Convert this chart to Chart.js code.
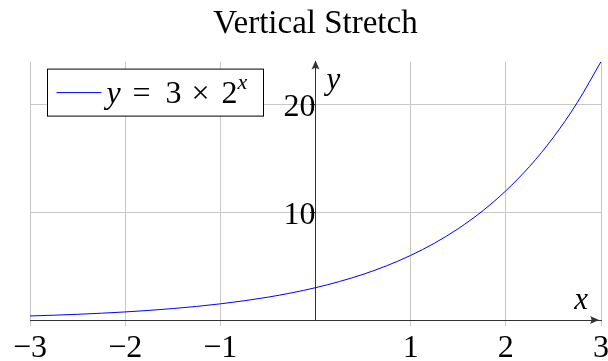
<!DOCTYPE html>
<html>
<head>
<meta charset="utf-8">
<script src="https://cdn.jsdelivr.net/npm/chart.js@4.4.1/dist/chart.umd.min.js"></script>
<style>
  html, body { margin: 0; padding: 0; background: #fff; }
  #wrap { width: 608px; height: 361px; }
</style>
</head>
<body>
<div id="wrap"><canvas id="stretchChart"></canvas></div>
<script>
// y = 3 * 2^x sampled every quarter unit
const xValues = [-3, -2.75, -2.5, -2.25, -2, -1.75, -1.5, -1.25, -1, -0.75, -0.5, -0.25, 0,
                 0.25, 0.5, 0.75, 1, 1.25, 1.5, 1.75, 2, 2.25, 2.5, 2.75, 3];
const yValues = [0.375, 0.446, 0.530, 0.631, 0.75, 0.892, 1.061, 1.261, 1.5, 1.784, 2.121, 2.523, 3,
                 3.568, 4.243, 5.045, 6, 7.135, 8.485, 10.091, 12, 14.270, 16.971, 20.182, 24];
const xTicks = [-3, -2, -1, 1, 2, 3];
const yTicks = [10, 20];
const seriesLabel = "y = 3 × 2^x";
const titleText = "Vertical Stretch";

const SERIF = "'Liberation Serif', 'DejaVu Serif', serif";
const AXIS_COLOR = "#333";
const GRID_COLOR = "#c8c8c8";

function arrowHead(ctx, x, y, dir) {
  // dir: "up" or "right"
  ctx.save();
  ctx.fillStyle = AXIS_COLOR;
  ctx.beginPath();
  if (dir === "up") {
    ctx.moveTo(x, y - 1);
    ctx.lineTo(x - 4, y + 8);
    ctx.quadraticCurveTo(x, y + 5, x + 4, y + 8);
  } else {
    ctx.moveTo(x + 1, y);
    ctx.lineTo(x - 8, y - 4);
    ctx.quadraticCurveTo(x - 5, y, x - 8, y + 4);
  }
  ctx.closePath();
  ctx.fill();
  ctx.restore();
}

// math-style legend text: pieces with their x offset inside the box
function legendPieces() {
  const [base, sup] = seriesLabel.split("^");
  const parts = base.split(" ");   // ["y", "=", "3", "×", "2"]
  const offsets = [59, 85, 118, 144, 174];
  const pieces = parts.map((t, i) => ({ t, dx: offsets[i], italic: i === 0, sup: false }));
  pieces.push({ t: sup, dx: 190, italic: true, sup: true });
  return pieces;
}

const axisDecor = {
  id: "axisDecor",
  afterDraw(chart) {
    const { ctx, chartArea, scales } = chart;
    const x0 = scales.x.getPixelForValue(0);
    const y0 = scales.y.getPixelForValue(0);

    arrowHead(ctx, x0, chartArea.top, "up");
    arrowHead(ctx, chartArea.right - 3, y0, "right");

    ctx.save();
    ctx.fillStyle = "#000";
    ctx.textBaseline = "alphabetic";
    ctx.font = "italic 31px " + SERIF;
    ctx.textAlign = "left";
    ctx.fillText("y", x0 + 11, chartArea.top + 27);
    ctx.textAlign = "right";
    ctx.fillText("x", chartArea.right - 13, y0 - 11);
    ctx.restore();

    // legend box
    const ds = chart.data.datasets[0];
    const bx = chartArea.left + 17.5, by = chartArea.top + 7.5, bw = 216, bh = 47;
    ctx.save();
    ctx.fillStyle = "#fff";
    ctx.fillRect(bx, by, bw, bh);
    ctx.strokeStyle = "#000";
    ctx.lineWidth = 1;
    ctx.strokeRect(bx, by, bw, bh);

    const midY = by + bh / 2;
    ctx.strokeStyle = ds.borderColor;
    ctx.lineWidth = ds.borderWidth;
    ctx.beginPath();
    ctx.moveTo(bx + 9, midY);
    ctx.lineTo(bx + 54, midY);
    ctx.stroke();

    const baseline = by + 34;
    ctx.fillStyle = "#000";
    ctx.textAlign = "left";
    ctx.textBaseline = "alphabetic";
    legendPieces().forEach((p) => {
      const size = p.sup ? 22 : 32;
      ctx.font = (p.italic ? "italic " : "") + size + "px " + SERIF;
      ctx.fillText(p.t, bx + p.dx, p.sup ? baseline - 14 : baseline);
    });
    ctx.restore();
  }
};

new Chart(document.getElementById("stretchChart"), {
  type: "line",
  data: {
    labels: xValues,
    datasets: [{
      label: seriesLabel,
      data: xValues.map((x, i) => ({ x, y: yValues[i] })),
      borderColor: "#0000ff",
      borderWidth: 1,
      pointRadius: 0,
      cubicInterpolationMode: "monotone",
      fill: false
    }]
  },
  options: {
    responsive: true,
    maintainAspectRatio: false,
    animation: false,
    devicePixelRatio: 1,
    layout: { padding: { left: 30, right: 7, top: 0, bottom: 41 } },
    plugins: {
      legend: { display: false },
      tooltip: { enabled: false },
      title: {
        display: true,
        text: titleText,
        color: "#000",
        font: { family: SERIF, size: 33, weight: "normal" },
        padding: { top: 5, bottom: 17 }
      }
    },
    scales: {
      x: {
        type: "linear",
        min: -3,
        max: 3,
        position: { y: 0 },
        afterBuildTicks: (scale) => { scale.ticks = xTicks.map((v) => ({ value: v })); },
        afterFit: (scale) => {
          scale.height = 0;
          scale.paddingLeft = 0;
          scale.paddingRight = 0;
        },
        grid: { color: GRID_COLOR, lineWidth: 1, tickLength: 5, tickColor: GRID_COLOR },
        border: { display: true, color: AXIS_COLOR, width: 1 },
        ticks: {
          color: "#000",
          font: { family: SERIF, size: 32 },
          padding: 4,
          maxRotation: 0,
          callback: (v) => (v < 0 ? "\u2212" + Math.abs(v) : String(v))
        }
      },
      y: {
        type: "linear",
        min: 0,
        max: 24,
        position: { x: 0 },
        afterBuildTicks: (scale) => { scale.ticks = yTicks.map((v) => ({ value: v })); },
        afterFit: (scale) => {
          scale.width = 0;
          scale.paddingTop = 0;
          scale.paddingBottom = 0;
        },
        grid: { color: GRID_COLOR, lineWidth: 1, tickLength: 5, tickColor: AXIS_COLOR },
        border: { display: true, color: AXIS_COLOR, width: 1 },
        ticks: {
          color: "#000",
          font: { family: SERIF, size: 32 },
          padding: 13,
          labelOffset: 3
        }
      }
    }
  },
  plugins: [axisDecor]
});
</script>
</body>
</html>
